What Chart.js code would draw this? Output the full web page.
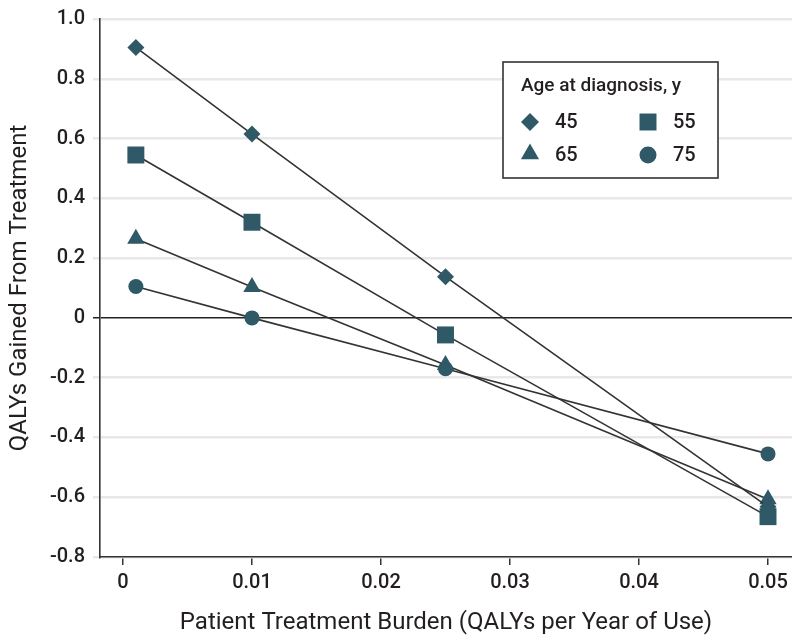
<!DOCTYPE html>
<html>
<head>
<meta charset="utf-8">
<script src="https://cdn.jsdelivr.net/npm/chart.js@4/dist/chart.umd.min.js"></script>
<style>
html,body{margin:0;padding:0;background:#fff;}
#wrap{width:792px;height:639px;position:relative;}
</style>
</head>
<body>
<div id="wrap"><canvas id="c" width="792" height="639"></canvas></div>
<script>
const xValues = [0.001, 0.01, 0.025, 0.05];
const ages = ['45', '55', '65', '75'];
const age45 = [0.905, 0.615, 0.138, -0.632];
const age55 = [0.545, 0.320, -0.057, -0.665];
const age65 = [0.265, 0.103, -0.158, -0.607];
const age75 = [0.105, 0.000, -0.170, -0.455];
const xTicks = [0, 0.01, 0.02, 0.03, 0.04, 0.05];
const yTicks = [-0.8, -0.6, -0.4, -0.2, 0, 0.2, 0.4, 0.6, 0.8, 1.0];
const legendTitle = 'Age at diagnosis, y';
const xTitle = 'Patient Treatment Burden (QALYs per Year of Use)';
const yTitle = 'QALYs Gained From Treatment';

const FONT = 'Roboto, "Noto Sans", sans-serif';
const TXT = '#231f20';
const MARK = '#2f5966';

const styles = [
  {pointStyle: 'rectRot', r: 8.5},
  {pointStyle: 'rect', r: 12},
  {pointStyle: 'triangle', r: 10},
  {pointStyle: 'circle', r: 7.5}
];
const series = [age45, age55, age65, age75];

const datasets = series.map((vals, i) => ({
  label: ages[i],
  data: xValues.map((x, j) => ({x: x, y: vals[j]})),
  borderColor: '#333333',
  borderWidth: 1.6,
  backgroundColor: MARK,
  pointBackgroundColor: MARK,
  pointBorderColor: MARK,
  pointBorderWidth: 0,
  pointStyle: styles[i].pointStyle,
  pointRadius: styles[i].r,
  pointHoverRadius: styles[i].r,
  showLine: true,
  tension: 0,
  clip: false,
  order: i
}));

const legendPlugin = {
  id: 'boxLegend',
  afterDraw(chart) {
    const ctx = chart.ctx;
    const bx = 503, by = 62, bw = 215, bh = 116;
    ctx.save();
    ctx.fillStyle = '#ffffff';
    ctx.fillRect(bx, by, bw, bh);
    ctx.strokeStyle = '#333333';
    ctx.lineWidth = 1.6;
    ctx.strokeRect(bx, by, bw, bh);
    ctx.fillStyle = TXT;
    ctx.font = '500 19px ' + FONT;
    ctx.textBaseline = 'middle';
    ctx.textAlign = 'left';
    ctx.fillText(legendTitle, 521, 86);
    const pos = [[530, 122], [648, 122], [530, 154], [648, 155]];
    const lr = [9, 12, 10.5, 8.5];
    chart.data.datasets.forEach((ds, i) => {
      const [px, py] = pos[i];
      ctx.fillStyle = MARK;
      ctx.strokeStyle = MARK;
      Chart.helpers.drawPoint(ctx, {pointStyle: ds.pointStyle, radius: lr[i], borderWidth: 0, rotation: 0}, px, py);
      ctx.fillStyle = TXT;
      ctx.font = '500 20px ' + FONT;
      ctx.fillText(ds.label, px + 25, i < 2 ? 123 : 156);
    });
    ctx.restore();
  }
};

function zeroPad(scale) {
  scale.paddingLeft = 0; scale.paddingRight = 0;
  scale.paddingTop = 0; scale.paddingBottom = 0;
}

new Chart(document.getElementById('c'), {
  type: 'scatter',
  data: {datasets: datasets},
  plugins: [legendPlugin],
  options: {
    responsive: false,
    animation: false,
    devicePixelRatio: 1,
    layout: {autoPadding: false, padding: {top: 19, right: 0, left: 0, bottom: 0}},
    plugins: {legend: {display: false}, tooltip: {enabled: false}},
    scales: {
      x: {
        type: 'linear',
        min: -0.00178,
        max: 0.05186,
        afterBuildTicks(scale) { scale.ticks = xTicks.map(v => ({value: v})); },
        afterFit(scale) { scale.height = 82; zeroPad(scale); },
        border: {display: true, color: '#333333', width: 1.6},
        grid: {display: true, drawOnChartArea: false, drawTicks: true, tickLength: 8, color: '#333333', lineWidth: 1.5},
        ticks: {
          color: TXT,
          font: {family: FONT, size: 20, weight: '500'},
          padding: 6,
          maxRotation: 0,
          autoSkip: false,
          callback: v => (Math.abs(v) < 1e-9 ? '0' : v.toFixed(2))
        },
        title: {display: true, text: xTitle, color: TXT, font: {family: FONT, size: 24, weight: '400'}, padding: {top: 0, bottom: 2}}
      },
      y: {
        type: 'linear',
        min: -0.8,
        max: 1.0,
        afterBuildTicks(scale) { scale.ticks = yTicks.map(v => ({value: v})); },
        afterFit(scale) { scale.width = 100; zeroPad(scale); },
        border: {display: true, color: '#333333', width: 1.6},
        grid: {
          drawTicks: true,
          tickLength: 7,
          color: ctx => (ctx.tick && Math.abs(ctx.tick.value) < 1e-9 ? '#222222' : '#e8e8e8'),
          lineWidth: ctx => (ctx.tick && Math.abs(ctx.tick.value) < 1e-9 ? 1.5 : 2.5)
        },
        ticks: {
          color: TXT,
          font: {family: FONT, size: 20, weight: '500'},
          padding: 8,
          autoSkip: false,
          callback: v => (Math.abs(v) < 1e-9 ? '0' : v.toFixed(1))
        },
        title: {display: true, text: yTitle, color: TXT, font: {family: FONT, size: 24, weight: '400'}, padding: {top: 6, bottom: 0}}
      }
    }
  }
});
</script>
</body>
</html>
